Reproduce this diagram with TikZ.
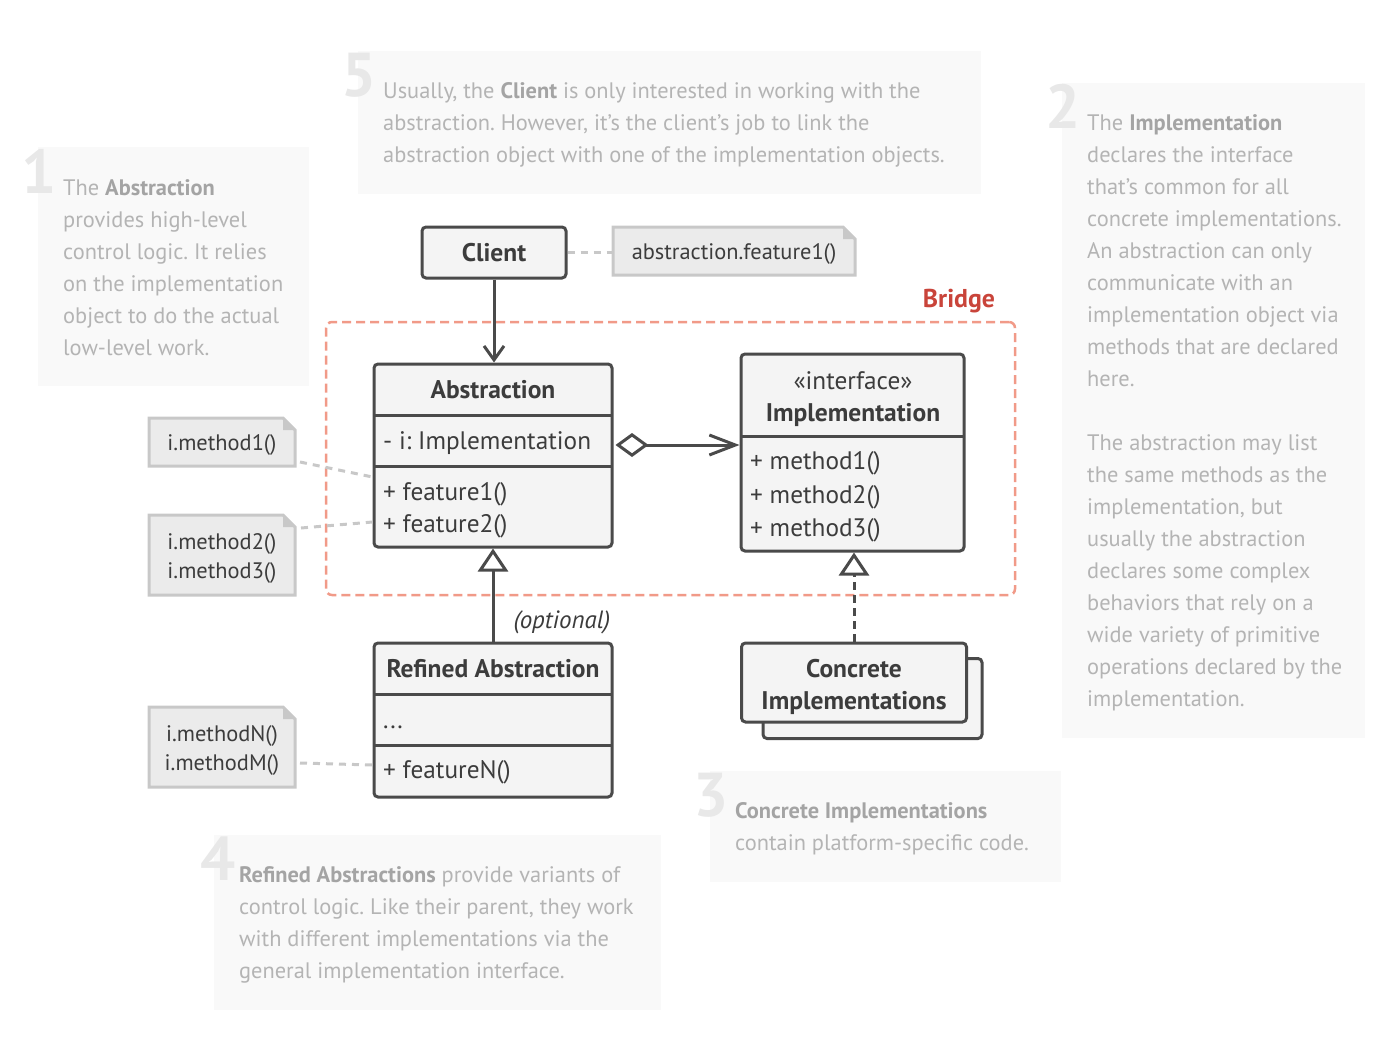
\documentclass[tikz,border=0pt]{standalone}
\usepackage{fontspec}
\setmainfont{PT Sans}
\usetikzlibrary{arrows.meta,calc}
\definecolor{boxline}{HTML}{4A4A4A}
\definecolor{boxfill}{HTML}{F4F4F4}
\definecolor{notefill}{HTML}{EBEBEB}
\definecolor{noteline}{HTML}{C8C8C8}
\definecolor{panelfill}{HTML}{F9F9F9}
\definecolor{paneltext}{HTML}{B4B4B4}
\definecolor{panelbold}{HTML}{A4A4A4}
\definecolor{panelnum}{HTML}{E8E8E8}
\definecolor{bridgeline}{HTML}{F19A88}
\definecolor{bridgetext}{HTML}{C9443A}
\definecolor{txt}{HTML}{3C3C3C}
\newcommand\pb[1]{\textcolor{panelbold}{\bfseries #1}}
\newcommand\mynote[1]{%
  \fill[notefill] (#1.north west) -- ([xshift=-12pt]#1.north east) -- ([yshift=-12pt]#1.north east) -- (#1.south east) -- (#1.south west) -- cycle;
  \fill[noteline] ([xshift=-12pt]#1.north east) -- ([xshift=-12pt,yshift=-12pt]#1.north east) -- ([yshift=-12pt]#1.north east) -- cycle;
  \draw[noteline, line width=3pt, line join=miter] (#1.north west) -- ([xshift=-12pt]#1.north east) -- ([yshift=-12pt]#1.north east) -- (#1.south east) -- (#1.south west) -- cycle;
}
\frenchspacing
\begin{document}
\begin{tikzpicture}[x=1pt,y=-1pt,
  umlbox/.style={draw=boxline, fill=boxfill, line width=3pt, rounded corners=4pt, inner sep=0pt},
  divider/.style={draw=boxline, line width=3pt},
  boxtitle/.style={font=\fontsize{25.5}{32}\selectfont\bfseries, text=txt, inner sep=0pt},
  boxplain/.style={font=\fontsize{25.3}{32}\selectfont, text=txt, inner sep=0pt},
  boxtext/.style={font=\fontsize{25.3}{32}\selectfont, text=txt, inner sep=0pt, anchor=base west},
  notebox/.style={inner sep=0pt, outer sep=0pt},
  notetext/.style={font=\fontsize{22.4}{29}\selectfont, text=txt, inner sep=0pt, align=center},
  notelink/.style={draw=noteline, line width=3pt, dash pattern=on 7pt off 6pt},
  panel/.style={fill=panelfill, inner sep=0pt, anchor=north west},
  paneltxt/.style={font=\fontsize{22.4}{32}\selectfont\frenchspacing, text=paneltext, inner sep=0pt, anchor=north west, align=left},
  panelnum/.style={font=\fontsize{62}{62}\selectfont\bfseries, text=panelnum, inner sep=0pt, anchor=base east},
  assoc/.style={draw=boxline, line width=3pt, -{Straight Barb[length=14pt,width=20pt]}},
  agg/.style={draw=boxline, line width=3pt, {Diamond[length=33pt,width=24pt,fill=white]}-{Straight Barb[length=26pt,width=20pt]}},
  gen/.style={draw=boxline, line width=3pt, -{Triangle[length=23pt,width=30pt,fill=white]}},
  real/.style={draw=boxline, line width=3pt, dash pattern=on 8pt off 5pt, -{Triangle[length=23pt,width=30pt,fill=white]}},
]
\useasboundingbox (0,0) rectangle (1394,1036);

% ---- annotation panels ----
\node[panel, minimum width=271pt, minimum height=239pt] (p1) at (38,147) {};
\node[panel, minimum width=623pt, minimum height=143pt] (p5) at (358,51) {};
\node[panel, minimum width=303pt, minimum height=655pt] (p2) at (1062,83) {};
\node[panel, minimum width=351pt, minimum height=111pt] (p3) at (710,771) {};
\node[panel, minimum width=447pt, minimum height=175pt] (p4) at (214,835) {};

\node[panelnum] (n1num) at (57,193) {1};
\node[panelnum] (n5num) at (377,96) {5};
\node[panelnum] (n2num) at (1081,128) {2};
\node[panelnum] (n3num) at (729,816) {3};
\node[panelnum] (n4num) at (236,880) {4};

\node[paneltxt] (t1) at (63,172.4) {\strut The \pb{Abstraction}\\
provides high-level\\
control logic. It relies\\
on the implementation\\
object to do the actual\\
low-level work.};

\node[paneltxt] (t5) at (383,75.4) {\strut Usually, the \pb{Client} is only interested in working with the\\
abstraction. However, it’s the client’s job to link the\\
abstraction object with one of the implementation objects.};

\node[paneltxt] (t2) at (1087,107.4) {\strut The \pb{Implementation}\\
declares the interface\\
that’s common for all\\
concrete implementations.\\
An abstraction can only\\
communicate with an\\
implementation object via\\
methods that are declared\\
here.\\[32pt]
The abstraction may list\\
the same methods as the\\
implementation, but\\
usually the abstraction\\
declares some complex\\
behaviors that rely on a\\
wide variety of primitive\\
operations declared by the\\
implementation.};

\node[paneltxt] (t3) at (735,795.4) {\strut\pb{Concrete Implementations}\\
contain platform-specific code.};

\node[paneltxt] (t4) at (239,859.4) {\strut\pb{Refined Abstractions} provide variants of\\
control logic. Like their parent, they work\\
with different implementations via the\\
general implementation interface.};

% ---- bridge frame ----
\node[draw=bridgeline, dash pattern=on 9pt off 5pt, line width=2.5pt, rounded corners=6pt,
      minimum width=689pt, minimum height=273pt, inner sep=0pt] (bridge) at (670.5,458.5) {};
\node[font=\fontsize{25.8}{30}\selectfont\bfseries, text=bridgetext, inner sep=0pt] (bridgelbl) at (959,301) {Bridge};

% ---- client ----
\node[umlbox, boxtitle, minimum width=144pt, minimum height=51pt] (client) at (494,252.5) {Client};
\node[notebox, minimum width=242pt, minimum height=48pt] (cn) at (734,251) {};
\mynote{cn}
\node[notetext] (cnt) at ([yshift=-2.5pt]cn.center) {abstraction.feature1()};

% ---- abstraction ----
\node[umlbox, minimum width=238pt, minimum height=183pt] (abs) at (493,455.5) {};
\draw[divider] (374,415) -- (612,415);
\draw[divider] (374,466) -- (612,466);
\node[boxtitle] (absname) at (493,390) {Abstraction};
\node[boxtext] (absfield) at (383,449) {- i: Implementation};
\node[boxtext] (absop1) at (383,500.5) {+ feature1()};
\node[boxtext] (absop2) at (383,532.5) {+ feature2()};

% ---- implementation ----
\node[umlbox, minimum width=223pt, minimum height=197pt] (impl) at (852.5,452.5) {};
\draw[divider] (741,436) -- (964,436);
\node[boxplain] (implst) at (853,381) {«interface»};
\node[boxtitle] (implname) at (853,415) {Implementation};
\node[boxtext] (implm1) at (750,469) {+ method1()};
\node[boxtext] (implm2) at (750,503) {+ method2()};
\node[boxtext] (implm3) at (750,536) {+ method3()};

% ---- refined abstraction ----
\node[umlbox, minimum width=238pt, minimum height=154pt] (refined) at (493,720) {};
\draw[divider] (374,694) -- (612,694);
\draw[divider] (374,745) -- (612,745);
\node[boxtitle] (refname) at (493,669) {Refined Abstraction};
\node[boxtext] (refdots) at (383,728) {...};
\node[boxtext] (refop) at (383,778) {+ featureN()};

% ---- concrete implementations ----
\node[umlbox, minimum width=219pt, minimum height=80pt] (concback) at (872.5,698.5) {};
\node[umlbox, minimum width=225pt, minimum height=79pt] (conc) at (854,682.5) {};
\node[boxtitle, align=center] (conct) at (854,687) {Concrete\\Implementations};

% ---- notes ----
\node[notebox, minimum width=146pt, minimum height=48pt] (n1) at (222,442) {};
\mynote{n1}
\node[notetext] (n1t) at ([yshift=-3pt]n1.center) {i.method1()};
\node[notebox, minimum width=146pt, minimum height=80pt] (n2) at (222,555) {};
\mynote{n2}
\node[notetext] (n2t) at ([yshift=-3pt]n2.center) {i.method2()\\i.method3()};
\node[notebox, minimum width=146pt, minimum height=80pt] (n3) at (222,747) {};
\mynote{n3}
\node[notetext] (n3t) at ([yshift=-3pt]n3.center) {i.methodN()\\i.methodM()};

% ---- connectors ----
\draw[notelink] (client.east) -- (client.east -| cn.west);
\draw[notelink] ($(n1.south east)+(5,-4)$) -- ($(abs.west)+(0,21.5)$);
\draw[notelink] ($(n2.north east)+(6,13)$) -- ($(abs.west)+(0,66.5)$);
\draw[notelink] ($(n3.east)+(5,16)$) -- ($(refined.west)+(0,45)$);

\draw[assoc] (client.south) -- (client.south |- abs.north);
\coordinate (aggy) at (0,445);
\draw[agg] ([xshift=2pt]abs.east |- aggy) -- (impl.west |- aggy);
\draw[gen] (refined.north) -- (abs.south);
\draw[real] (conc.north) -- (conc.north |- impl.south);
\node[font=\fontsize{25}{28}\selectfont\itshape, text=txt, inner sep=0pt] (opt) at (562,622) {(optional)};
\end{tikzpicture}
\end{document}
